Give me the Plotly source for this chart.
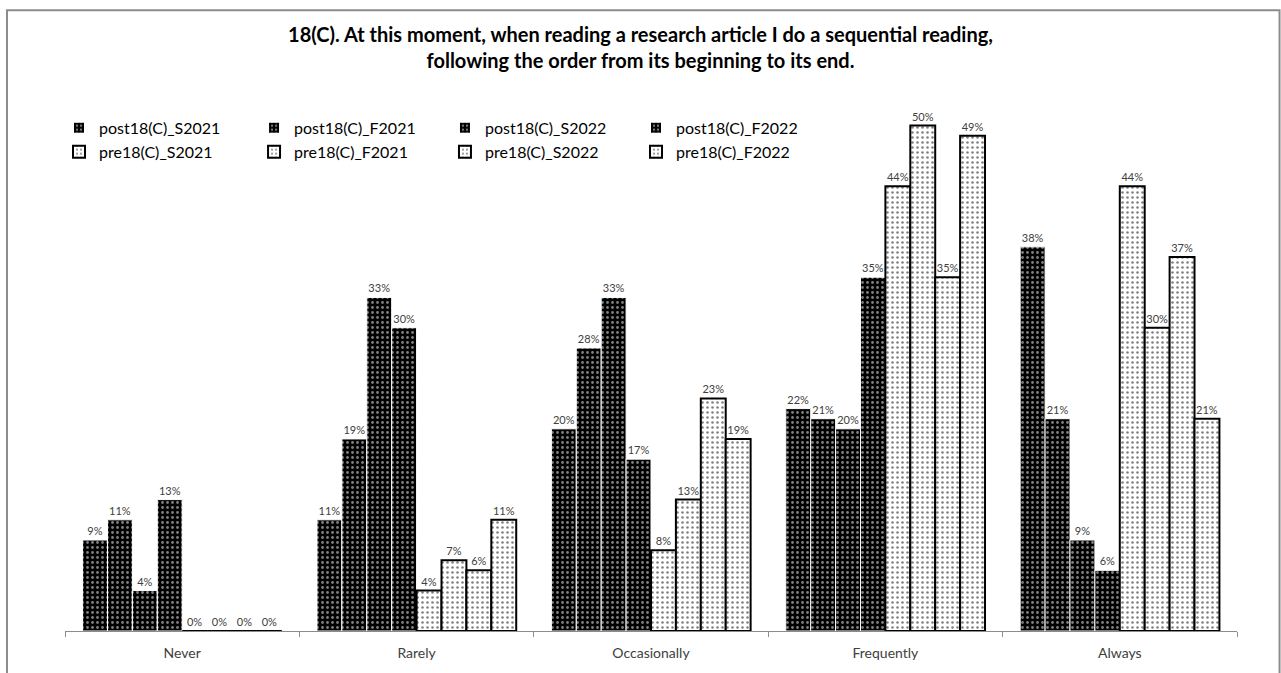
import plotly.graph_objects as go

# Survey responses (share of respondents) per frequency category
categories = ["Never", "Rarely", "Occasionally", "Frequently", "Always"]

post_names = ["post18(C)_S2021", "post18(C)_F2021", "post18(C)_S2022", "post18(C)_F2022"]
pre_names = ["pre18(C)_S2021", "pre18(C)_F2021", "pre18(C)_S2022", "pre18(C)_F2022"]

post_S2021 = [0.09, 0.11, 0.20, 0.22, 0.38]
post_F2021 = [0.11, 0.19, 0.28, 0.21, 0.21]
post_S2022 = [0.04, 0.33, 0.33, 0.20, 0.09]
post_F2022 = [0.13, 0.30, 0.17, 0.35, 0.06]

pre_S2021 = [0.00, 0.04, 0.08, 0.44, 0.44]
pre_F2021 = [0.00, 0.07, 0.13, 0.50, 0.30]
pre_S2022 = [0.00, 0.06, 0.23, 0.35, 0.37]
pre_F2022 = [0.00, 0.11, 0.19, 0.49, 0.21]

post_series = [post_S2021, post_F2021, post_S2022, post_F2022]
pre_series = [pre_S2021, pre_F2021, pre_S2022, pre_F2022]

FONT = "Lato, Open Sans, sans-serif"
LABEL_FONT = dict(family=FONT, size=11, color="#404040")

# legend grid: one single-entry legend per series (4 columns x 2 rows)
legend_cols = [-0.0051, 0.1613, 0.3242, 0.4872]
legend_rows = [0.905, 0.862]

fig = go.Figure()
legend_layout = {}


def legend_key(i):
    return "legend" if i == 0 else f"legend{i + 1}"


def add_series(idx, name, vals, row, col, style):
    key = legend_key(idx)
    fig.add_trace(go.Bar(
        x=categories, y=vals, name=name, legend=key, showlegend=True,
        marker=style,
        text=[f"{round(v * 100)}%" for v in vals],
        textposition="outside", textfont=LABEL_FONT,
        cliponaxis=False, constraintext="none",
    ))
    legend_layout[key] = dict(
        x=legend_cols[col], y=legend_rows[row],
        xanchor="left", yanchor="middle", orientation="h",
        font=dict(family=FONT, size=16, color="black"),
        bgcolor="rgba(0,0,0,0)", itemsizing="constant",
        visible=True,
    )


post_style = dict(
    color="black",
    line=dict(color="white", width=1),
    pattern=dict(shape=".", fgcolor="white", bgcolor="black",
                 size=5, solidity=0.25, fillmode="overlay"),
)
pre_style = dict(
    color="white",
    line=dict(color="black", width=2),
    pattern=dict(shape=".", fgcolor="black", bgcolor="white",
                 size=5, solidity=0.2, fillmode="overlay"),
)

for i, (name, vals) in enumerate(zip(post_names, post_series)):
    add_series(i, name, vals, 0, i, post_style)
for i, (name, vals) in enumerate(zip(pre_names, pre_series)):
    add_series(4 + i, name, vals, 1, i, pre_style)

fig.update_layout(
    width=1281, height=673,
    showlegend=True,
    margin=dict(l=65, r=44, t=75, b=40),
    paper_bgcolor="white", plot_bgcolor="white",
    barmode="group", bargap=0.15, bargroupgap=0,
    title=dict(
        text="18(C). At this moment, when reading a research article I do a sequential reading,<br>following the order from its beginning to its end.",
        x=0.5, xanchor="center", y=0.937, yanchor="middle",
        font=dict(family=FONT, size=20, color="black", weight="bold"),
    ),
    xaxis=dict(
        type="category", tickson="boundaries", ticks="outside",
        ticklen=5, tickcolor="#8c8c8c", showline=True, linecolor="#8c8c8c",
        linewidth=1, showgrid=False, ticklabelstandoff=9,
        tickfont=dict(family=FONT, size=14, color="#404040"),
    ),
    yaxis=dict(range=[0, 0.55], visible=False, showgrid=False),
    shapes=[dict(
        type="rect", xref="paper", yref="paper",
        x0=-0.0495, x1=1.0363, y0=-0.1, y1=1.1165,
        line=dict(color="#8c8c8c", width=2), fillcolor="rgba(0,0,0,0)",
        layer="below",
    )],
    **legend_layout,
)

fig.write_html("out.html")
